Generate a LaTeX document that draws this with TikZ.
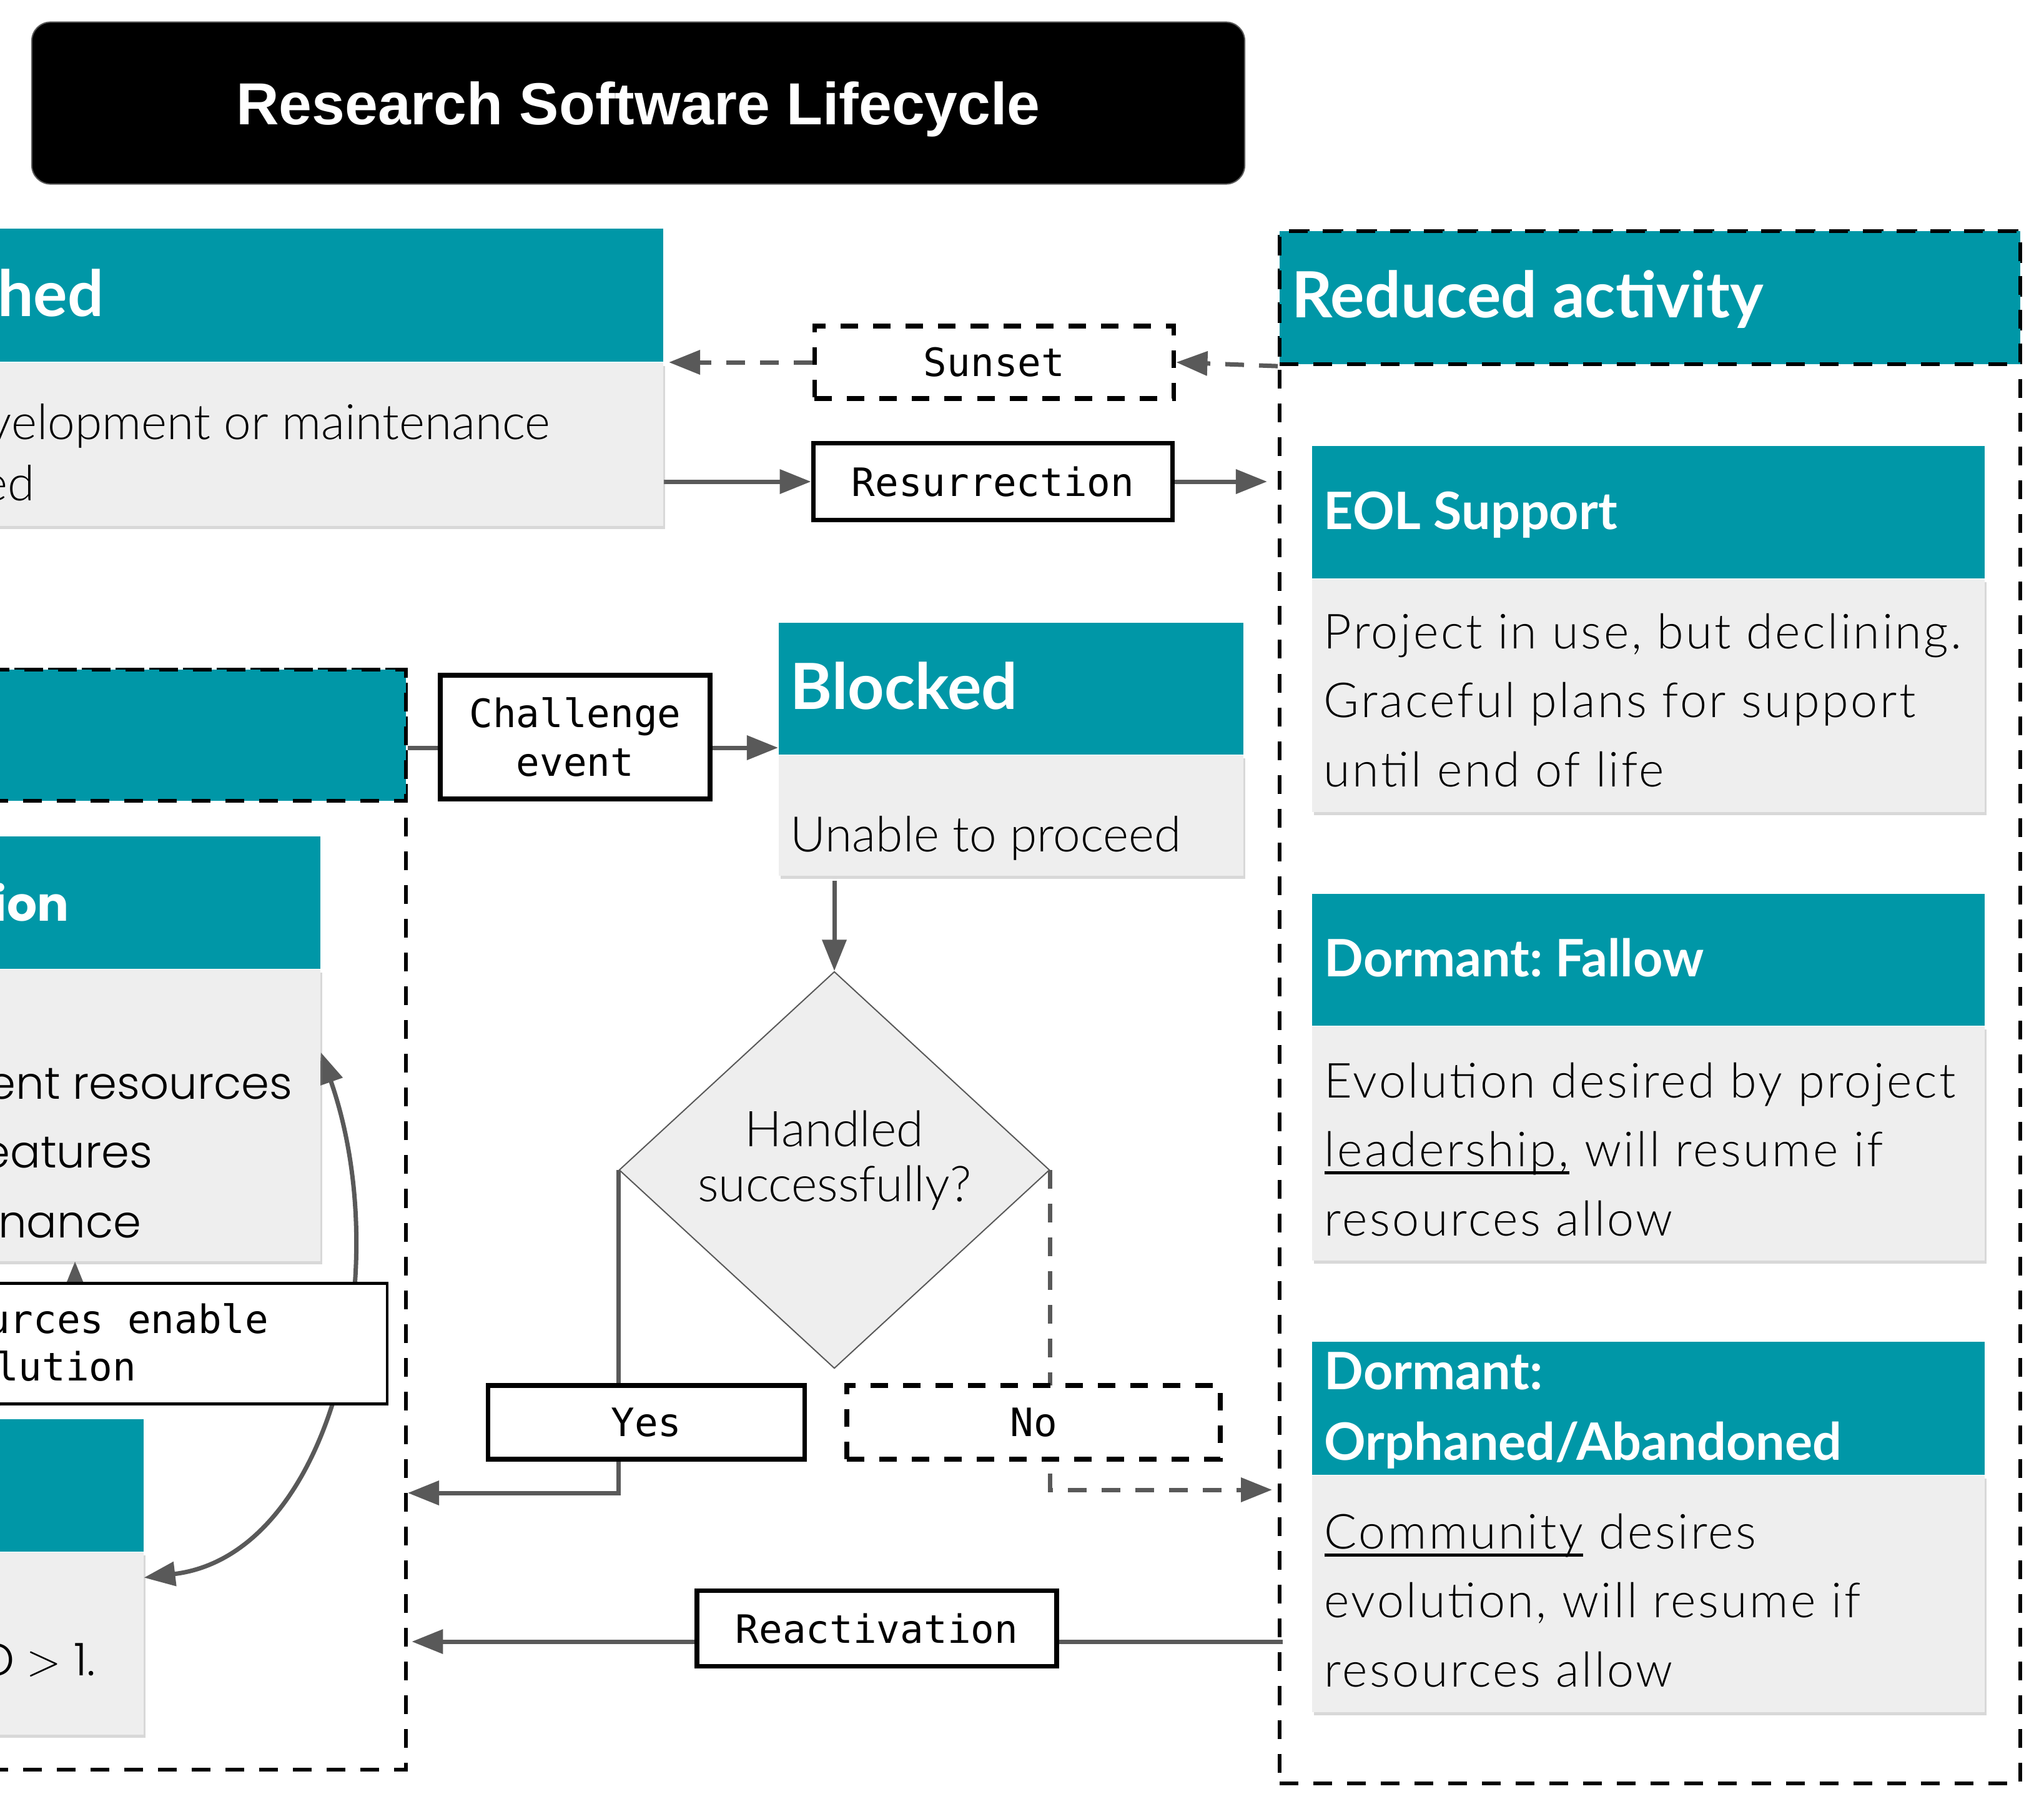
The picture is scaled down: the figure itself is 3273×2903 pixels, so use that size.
\documentclass[tikz,border=0pt]{standalone}
\usepackage{fontspec}
\setmainfont{Lato}
\setmonofont{DejaVu Sans Mono}
\newfontfamily\titlefont{Liberation Sans}
\IfFontExistsTF{Lato Light}{\newfontfamily\lightfont{Lato Light}\newfontfamily\lightwide{Lato Light}[LetterSpace=4.5]}{\newfontfamily\lightfont{Lato}\newfontfamily\lightwide{Lato}[LetterSpace=3]}
\IfFontExistsTF{Poppins Light}{\newfontfamily\poplight{Poppins Light}}{\newfontfamily\poplight{Poppins}}
\newfontfamily\popfont{Poppins}
\newcommand{\uword}[1]{\setbox0\hbox{#1}\rlap{\rule[-0.16em]{\wd0}{1.4pt}}\box0{}}
\frenchspacing
\usetikzlibrary{positioning, arrows.meta, shapes.geometric, shadows, backgrounds}

\definecolor{stateteal}{HTML}{0097A7}
\definecolor{stategrey}{HTML}{EEEEEE}
\definecolor{linkgrey}{HTML}{595959}

\tikzset{
	titlebox/.style={fill=black, draw=black!65, line width=0.02cm, rounded corners=0.3cm, inner sep=0pt, text depth=0pt, text=white, font=\titlefont\bfseries\fontsize{27}{32}\selectfont},
	head/.style={fill=stateteal, inner sep=0pt, minimum height=2.12cm},
	body/.style={fill=stategrey, inner sep=0pt, drop shadow={shadow xshift=0.03cm, shadow yshift=-0.05cm, opacity=0.3}},
	statgroup/.style={draw=black, line width=0.06cm, dash pattern=on 0.3cm off 0.24cm, inner sep=0pt, anchor=north west},
	grouphead/.style={head, statgroup},
	tagbox/.style={draw=black, line width=0.075cm, fill=white, inner sep=0pt, align=center, font=\ttfamily\fontsize{17.8}{22}\selectfont},
	dtagbox/.style={tagbox, dash pattern=on 0.28cm off 0.24cm},
	tagtext/.style={inner sep=0pt, font=\ttfamily\fontsize{17.8}{22}\selectfont},
	link/.style={draw=linkgrey, line width=0.07cm},
	flow/.style={link, -{Triangle[length=0.5cm, width=0.38cm]}},
	dflow/.style={flow, dash pattern=on 0.3cm off 0.24cm},
	bigname/.style={text=white, inner sep=0pt, font=\bfseries\fontsize{29}{33}\selectfont},
	smallname/.style={text=white, inner sep=0pt, align=left, font=\bfseries\fontsize{23.5}{31.9}\selectfont},
	desc/.style={inner sep=0pt, align=left, font=\lightfont\fontsize{22.3}{31.3}\selectfont},
	widedesc/.style={inner sep=0pt, align=left, font=\lightwide\fontsize{22}{31.3}\selectfont},
	popname/.style={text=white, inner sep=0pt, font=\popfont\bfseries\fontsize{21.5}{33}\selectfont},
	popdesc/.style={inner sep=0pt, font=\poplight\fontsize{20.5}{31}\selectfont},
}

\begin{document}
\begin{tikzpicture}[x=0.01cm, y=-0.01cm]
	\useasboundingbox (0,0) rectangle (3273,2903);
	
	% title
	\node[titlebox, minimum width=19.41cm, minimum height=2.59cm] (title) at (1022,165) {Research Software Lifecycle};
	
	% finished (cut off at the left)
	\node[head, minimum width=10.83cm, minimum height=2.13cm, anchor=south east] (finhead) at (1063,580) {};
	\node[body, minimum width=10.83cm, minimum height=2.61cm, below=0pt of finhead] (finbody) {};
	\node[bigname, anchor=base east] (finname) at (167,506) {hed};
	\node[desc, anchor=base east] (findesc) at (882,703) {velopment or maintenance};
	\node[desc, anchor=base east] (findescb) at (56,801) {ed};
	
	% reduced activity group
	\node[statgroup, minimum width=11.85cm, minimum height=24.84cm] (redgroup) at (2046,367) {};
	\node[grouphead, minimum width=11.85cm, minimum height=2.13cm] (redhead) at (2046,367) {};
	\node[bigname, anchor=base west] (redname) at (2068,508) {Reduced activity};
	
	\node[head, minimum width=10.77cm, anchor=north west] (eolhead) at (2100,713) {};		% EOL
	\node[body, minimum width=10.77cm, minimum height=3.73cm, below=0pt of eolhead] (eolbody) {};
	\node[smallname, anchor=base west] (eolname) at (2119,847) {EOL Support};
	\node[widedesc, anchor=base west] (eoldesc) at (2119,1259) {Project in use, but declining.\\Graceful plans for support\\until end of life};
	
	\node[head, minimum width=10.77cm, minimum height=2.11cm, anchor=north west] (fallowhead) at (2100,1430) {};	% fallow
	\node[body, minimum width=10.77cm, minimum height=3.75cm, below=0pt of fallowhead] (fallowbody) {};
	\node[smallname, anchor=base west] (fallowname) at (2120,1563) {Dormant: Fallow};
	\node[widedesc, anchor=base west] (fallowdesc) at (2120,1978) {Evolution desired by project\\\uword{leadership,} will resume if\\resources allow};
	
	\node[head, minimum width=10.77cm, minimum height=2.13cm, anchor=north west] (orphhead) at (2100,2147) {};	% orphaned
	\node[body, minimum width=10.77cm, minimum height=3.79cm, below=0pt of orphhead] (orphbody) {};
	\node[smallname, anchor=base west] (orphname) at (2120,2337) {Dormant:\\Orphaned/Abandoned};
	\node[widedesc, anchor=base west] (orphdesc) at (2120,2700) {\uword{Community} desires\\evolution, will resume if\\resources allow};
	
	% transitions between finished and reduced activity
	\node[dtagbox, minimum width=5.75cm, minimum height=1.16cm] (sunset) at (1592,580) {Sunset};
	\node[tagbox, minimum width=5.75cm, minimum height=1.23cm] (resur) at (1590,771) {Resurrection};
	
	% active group (cut off at the left)
	\node[statgroup, minimum width=6.67cm, minimum height=17.60cm] (leftgroup) at (-20,1069) {};
	\node[grouphead, minimum width=6.67cm, minimum height=2.10cm] (lefthead) at (-20,1069) {};
	
	\node[head, minimum width=5.32cm, anchor=north west] (ionhead) at (-20,1338) {};
	\node[body, minimum width=5.32cm, minimum height=4.66cm, below=0pt of ionhead] (ionbody) {};
	\node[popname, anchor=base east] (ionname) at (111,1474) {ion};
	\node[popdesc, anchor=base east] (iondesc) at (469,1759) {ent resources};
	\node[popdesc, anchor=base east] (iondescb) at (245,1869) {eatures};
	\node[popdesc, anchor=base east] (iondescc) at (227,1981) {nance};
	
	\node[head, minimum width=2.49cm, anchor=north west] (lowhead) at (-20,2271) {};
	\node[body, minimum width=2.49cm, minimum height=2.92cm, below=0pt of lowhead] (lowbody) {};
	\node[popdesc, anchor=base east] (lowdesc) at (153,2682) {O $>$ 1.};
	
	\node[tagbox, line width=0.045cm, minimum width=6.80cm, minimum height=1.93cm] (urces) at (280,2151) {};
	\node[tagtext, anchor=base east] (urcestext) at (431,2134) {urces enable};
	\node[tagtext, anchor=base east] (urcestextb) at (219,2210) {lution};
	
	% blocked branch
	\node[tagbox, minimum width=4.32cm, minimum height=1.98cm] (chal) at (921,1180) {Challenge\\event};
	\node[head, minimum width=7.44cm, minimum height=2.11cm, anchor=north west] (blockhead) at (1246,996) {};
	\node[body, minimum width=7.44cm, minimum height=1.93cm, below=0pt of blockhead] (blockbody) {};
	\node[bigname, anchor=base west] (blockname) at (1265,1135) {Blocked};
	\node[desc, anchor=base west] (blockdesc) at (1265,1363) {Unable to proceed};
	
	\node[diamond, fill=stategrey, draw=linkgrey, line width=0.02cm, inner sep=0pt, minimum width=6.89cm, minimum height=6.35cm] (decide) at (1336,1873) {};
	\node[inner sep=0pt, align=center, anchor=base, font=\lightfont\fontsize{22.5}{24.8}\selectfont] (decidetext) at ([yshift=-0.50cm]decide.center) {Handled\\successfully?};
	\node[tagbox, minimum width=5.07cm, minimum height=1.18cm] (yes) at (1035,2277) {Yes};
	\node[dtagbox, minimum width=5.98cm, minimum height=1.18cm] (no) at (1655,2277) {No};
	\node[tagbox, minimum width=5.76cm, minimum height=1.21cm] (react) at (1404,2607) {Reactivation};
	
	% loose ends
	\coordinate (chalrow) at (921,1197);
	\coordinate (yesin) at (653,2390);
	\coordinate (noin) at (2037,2385);
	\coordinate (reactout) at (2054,2628);
	\coordinate (upfoot) at ([xshift=1.40cm]ionbody.south west);
	\coordinate (downfoot) at ([xshift=0.12cm]lowhead.north west);
	
	% arrows, behind the boxes
	\begin{scope}[on background layer]
		\fill[white] (0,0) rectangle (3273,2903);
		\draw[dflow] (redhead.south west) -- (sunset.east);
		\draw[dflow] (sunset.west) -- ([xshift=0.08cm]finhead.south east);
		\draw[flow] (finbody.east |- resur.west) -- (resur.west);
		\draw[flow] (resur.east) -- ([xshift=-0.17cm]redgroup.west |- resur.east);
		\draw[link] (lefthead.east |- chalrow) -- (chal.west |- chalrow);
		\draw[flow] (chal.east |- chalrow) -- (blockhead.west |- chalrow);
		\draw[flow] ([yshift=-0.07cm]decide.north |- blockbody.south) -- (decide.north);
		\draw[flow] (decide.west) |- (yesin);
		\draw[dflow] (decide.east) |- (noin);
		\draw[flow] (reactout) -- ([xshift=0.06cm]leftgroup.east |- reactout);
		\draw[flow] (upfoot |- urces.north) -- (upfoot);
		\draw[flow] (downfoot |- urces.south) -- (downfoot);
		\draw[link, {Triangle[length=0.5cm, width=0.38cm]}-{Triangle[length=0.5cm, width=0.38cm]}] ([yshift=-1.33cm]ionbody.north east) .. controls +(122,350) and +(300,-36) .. ([yshift=-0.41cm]lowbody.north east);
	\end{scope}
\end{tikzpicture}
\end{document}
